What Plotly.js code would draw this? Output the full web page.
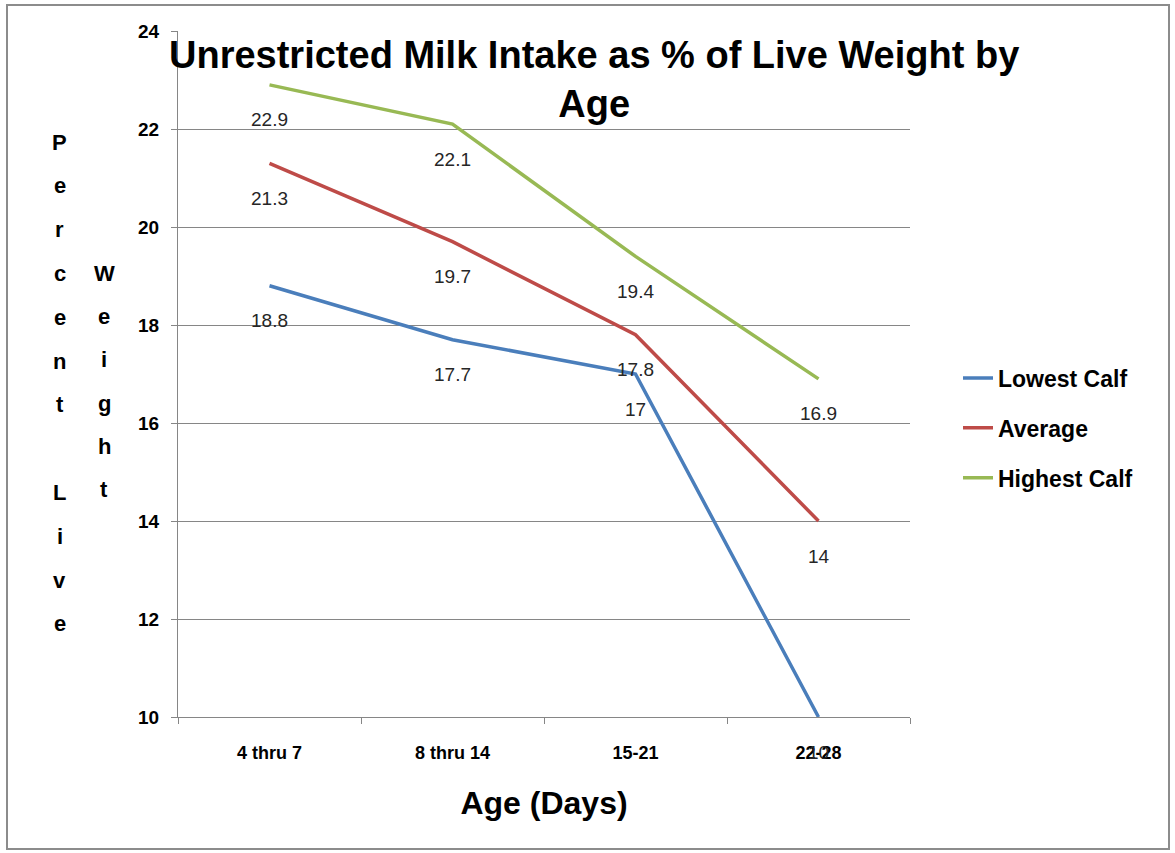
<!DOCTYPE html>
<html>
<head>
<meta charset="utf-8">
<script src="https://cdn.plot.ly/plotly-3.0.1.min.js"></script>
<style>
html,body{margin:0;padding:0;background:#fff;}
#wrap{position:relative;width:1175px;height:853px;}
#chart{width:1175px;height:853px;}
#frame{position:absolute;left:6px;top:4px;width:1160px;height:842px;border:2px solid #8c8c8c;pointer-events:none;}
</style>
</head>
<body>
<div id="wrap"><div id="chart"></div><div id="frame"></div></div>
<script>
const categories = ["4 thru 7", "8 thru 14", "15-21", "22-28"];
const lowestCalf = [18.8, 17.7, 17, 10];
const average = [21.3, 19.7, 17.8, 14];
const highestCalf = [22.9, 22.1, 19.4, 16.9];
const seriesNames = ["Lowest Calf", "Average", "Highest Calf"];
const seriesColors = ["#4a7ebb", "#be4b48", "#98b954"];
const seriesValues = [lowestCalf, average, highestCalf];
const yTicks = [10, 12, 14, 16, 18, 20, 22, 24];

const FONT = '"Liberation Sans", Arial, sans-serif';

const traces = seriesValues.map((vals, i) => ({
  type: 'scatter', mode: 'lines', name: seriesNames[i], legendgroup: 'g' + i,
  x: categories, y: vals,
  line: {color: seriesColors[i], width: 3.5},
  cliponaxis: false
}));

const annotations = [];
seriesValues.forEach(vals => {
  vals.forEach((v, j) => {
    annotations.push({x: categories[j], y: v, xref: 'x', yref: 'y', text: String(v),
      showarrow: false, yshift: -35, font: {family: FONT, size: 19, color: '#262626'}});
  });
});

const W = 1175, H = 853, T = 31, B = 136, L = 178, R = 265;
const plotH = H - T - B, plotW = W - L - R;
function pxToPaperY(py){ return (H - B - py) / plotH; }
function pxToPaperX(px){ return (px - L) / plotW; }

// title as annotation (overlaps plot area like the reference)
annotations.push({xref: 'paper', yref: 'paper', x: pxToPaperX(594), y: pxToPaperY(80),
  xanchor: 'center', yanchor: 'middle', showarrow: false,
  text: 'Unrestricted Milk Intake as % of Live Weight by<br>Age',
  font: {family: FONT, size: 38, color: '#000', weight: 'bold'}});

// vertical stacked axis title letters
const col1 = "Percent Live", col2 = "Weight";
[...col1].forEach((ch, k) => {
  if (ch === ' ') return;
  annotations.push({xref: 'paper', yref: 'paper', x: pxToPaperX(60), y: pxToPaperY(142 + k * 43.8),
    text: ch, showarrow: false, xanchor: 'center', yanchor: 'middle',
    font: {family: FONT, size: 22, color: '#000', weight: 'bold'}});
});
[...col2].forEach((ch, k) => {
  annotations.push({xref: 'paper', yref: 'paper', x: pxToPaperX(104), y: pxToPaperY(273 + k * 43.4),
    text: ch, showarrow: false, xanchor: 'center', yanchor: 'middle',
    font: {family: FONT, size: 22, color: '#000', weight: 'bold'}});
});

const layout = {
  width: W, height: H,
  margin: {l: L, r: R, t: T, b: B},
  paper_bgcolor: '#fff', plot_bgcolor: '#fff',
  showlegend: true,
  xaxis: {type: 'category', categoryorder: 'array', categoryarray: categories,
    tickson: 'boundaries', ticks: 'outside', ticklen: 6, tickcolor: '#868686',
    showline: true, linecolor: '#868686', linewidth: 1, showgrid: false,
    ticklabelstandoff: 19,
    tickfont: {family: FONT, size: 18, color: '#000', weight: 'bold'},
    title: {text: 'Age (Days)', font: {family: FONT, size: 32, color: '#000', weight: 'bold'}, standoff: 30},
    range: [-0.5, 3.5], fixedrange: true},
  yaxis: {range: [10, 24], tickvals: yTicks, ticktext: yTicks.map(String),
    ticks: 'outside', ticklen: 6, tickcolor: '#868686',
    showline: true, linecolor: '#868686', linewidth: 1,
    showgrid: true, gridcolor: '#868686', gridwidth: 1, zeroline: false,
    ticklabelstandoff: 8,
    tickfont: {family: FONT, size: 19, color: '#000', weight: 'bold'}, fixedrange: true},
  legend: {x: pxToPaperX(958), xref: 'paper', xanchor: 'left', y: pxToPaperY(428), yanchor: 'middle',
    font: {family: FONT, size: 23, color: '#000', weight: 'bold'}, tracegroupgap: 17,
    itemwidth: 30, bgcolor: 'rgba(0,0,0,0)'},
  annotations: annotations
};

Plotly.newPlot('chart', traces, layout, {displayModeBar: false, staticPlot: true});
</script>
</body>
</html>
